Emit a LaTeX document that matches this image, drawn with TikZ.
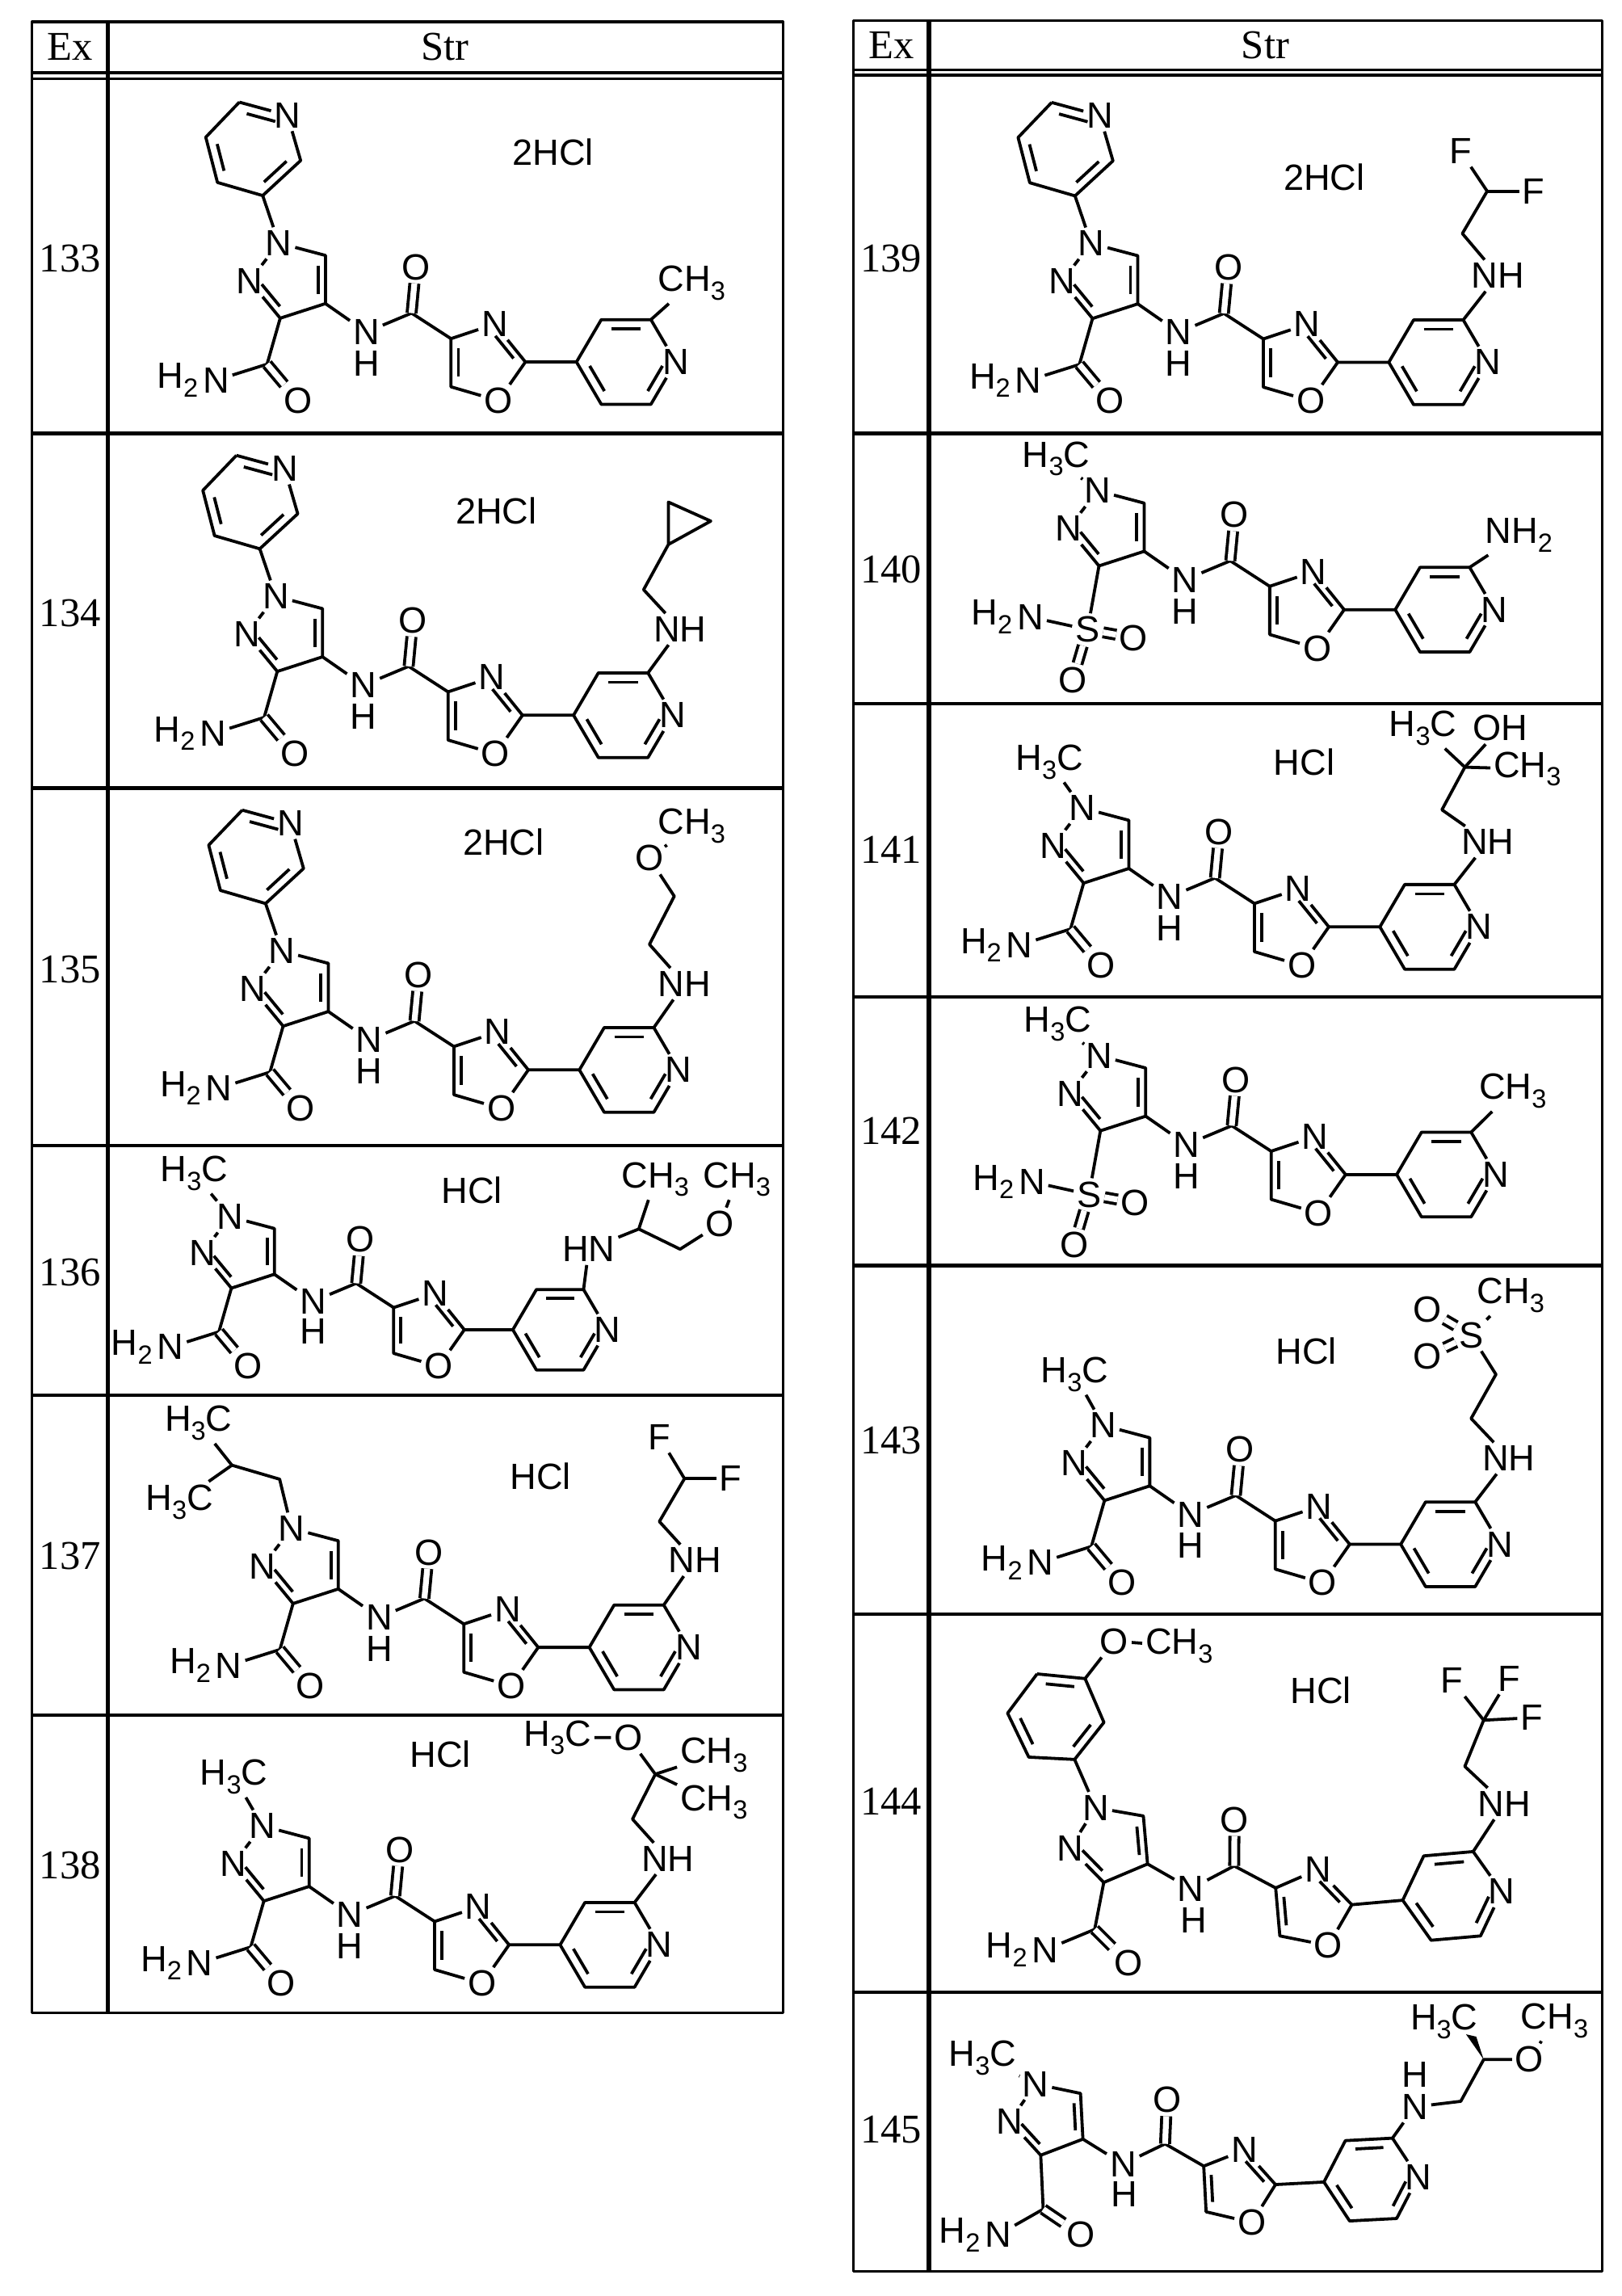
\documentclass[tikz,border=0pt]{standalone}
\usepackage{fontspec}
\setmainfont{Liberation Sans}
\newfontfamily\serifft{Liberation Serif}
\usetikzlibrary{calc}
\newcommand\sub[1]{\raisebox{-0.45ex}{\fontsize{9}{9}\selectfont#1}}
\newcommand\chemfont{\fontsize{12.5}{13}\selectfont}
\tikzset{
  atom/.style={inner sep=0.6pt, font=\chemfont},
  hsub/.style={inner sep=0pt, font=\chemfont, anchor=east},
  salt/.style={inner sep=0pt, font=\chemfont},
  exnum/.style={inner sep=0pt, font=\serifft\fontsize{14}{14}\selectfont},
  dbond/.style={double, double distance=2pt},
  tbl/.style={line width=0.9pt},
}
\newcommand\inb[3]{\path ($(#1)!0.22!(#3)$) coordinate (ia) ($(#2)!0.22!(#3)$) coordinate (ib);
  \draw ($(ia)!0.12!(ib)$) -- ($(ib)!0.12!(ia)$);}
% core: #1 prefix, #2 x, #3 y, #4 scale, #5 rotate
\newcommand\core[5]{%
\begin{scope}[shift={(#2,#3)},scale=#4,rotate=#5]
\coordinate (#1c4) at (0,0);
\coordinate (#1c5) at (0,-33);
\node[atom] (#1n1) at (-32,-41.5) {N};
\node[atom] (#1n2) at (-52,-15.5) {N};
\coordinate (#1c3) at (-31,10);
\coordinate (#1pz) at (-23,-16);
\node[atom] (#1nh) at (28,19.5) {N};
\node[atom,inner sep=0pt] (#1nhh) at (28,41) {H};
\coordinate (#1cc) at (59,6.5);
\node[atom] (#1co) at (62,-25) {O};
\coordinate (#1x4) at (86,24);
\node[atom] (#1x3) at (116,14) {N};
\coordinate (#1x2) at (137,40);
\node[atom] (#1x1) at (118.5,66.5) {O};
\coordinate (#1x5) at (86,57);
\coordinate (#1xc) at (109,40);
\coordinate (#1p4) at (172,40);
\coordinate (#1p3) at (189,11);
\coordinate (#1p2) at (223,11);
\node[atom] (#1pn) at (240,40) {N};
\coordinate (#1p6) at (223,69);
\coordinate (#1p5) at (189,69);
\coordinate (#1pc) at (206,40);
\end{scope}
\draw (#1n1) -- (#1c5) -- (#1c4) -- (#1c3) -- (#1n2) -- (#1n1);
\inb{#1c5}{#1c4}{#1pz}
\inb{#1c3}{#1n2}{#1pz}
\draw (#1c4) -- (#1nh) -- (#1cc) -- (#1x4);
\draw[dbond] (#1cc) -- (#1co);
\draw (#1x4) -- (#1x3) -- (#1x2) -- (#1x1) -- (#1x5) -- (#1x4);
\inb{#1x3}{#1x2}{#1xc}
\inb{#1x5}{#1x4}{#1xc}
\draw (#1x2) -- (#1p4) -- (#1p3) -- (#1p2) -- (#1pn) -- (#1p6) -- (#1p5) -- (#1p4);
\inb{#1p3}{#1p2}{#1pc}
\inb{#1pn}{#1p6}{#1pc}
\inb{#1p4}{#1p5}{#1pc}
}
\newcommand\amide[5]{%
\begin{scope}[shift={(#2,#3)},scale=#4,rotate=#5]
\coordinate (#1cam) at (-40,41.5);
\node[atom] (#1amn) at (-75,52.5) {N};
\node[hsub] at (#1amn.west) {H\sub2};
\node[atom] (#1amo) at (-19,66.5) {O};
\end{scope}
\draw (#1c3) -- (#1cam) -- (#1amn);
\draw[dbond] (#1cam) -- (#1amo);}
\newcommand\pyridyl[3]{%
\begin{scope}[shift={(#2,#3)}]
\coordinate (#1ya) at (-59,-138);
\node[atom] (#1yn) at (-26,-129) {N};
\coordinate (#1yb) at (-17,-98);
\coordinate (#1yc) at (-43,-74);
\coordinate (#1yd) at (-74,-83);
\coordinate (#1ye) at (-82,-114);
\coordinate (#1ym) at (-50,-106);
\end{scope}
\draw (#1ya) -- (#1yn) -- (#1yb) -- (#1yc) -- (#1yd) -- (#1ye) -- (#1ya);
\inb{#1ya}{#1yn}{#1ym}
\inb{#1yb}{#1yc}{#1ym}
\inb{#1yd}{#1ye}{#1ym}
\draw (#1yc) -- (#1n1);}
\newcommand\methyl[3]{%
\node[atom] (#1me) at (#2,#3) {H\sub3C};
\draw (#1me) -- (#1n1);}
\newcommand\sulf[3]{%
\begin{scope}[shift={(#2,#3)}]
\node[atom] (#1s) at (0,0) {S};
\node[atom] (#1sn) at (-39.2,-8.6) {N};
\node[hsub] at (#1sn.west) {H\sub2};
\node[atom] (#1so1) at (31.5,5.7) {O};
\node[atom] (#1so2) at (-10.2,34.5) {O};
\end{scope}
\draw (#1c3) -- (#1s) -- (#1sn);
\draw[dbond] (#1s) -- (#1so1);
\draw[dbond] (#1s) -- (#1so2);}
\begin{document}
\begin{tikzpicture}[x=0.5pt,y=-0.5pt,line width=1.05pt,line join=round]
\fill[white] (0,0) rectangle (1111,1573);
\useasboundingbox (0,0) rectangle (1111,1573);
% ---------- tables ----------
\draw[tbl] (22,15) rectangle (536.4,1379);
\draw[line width=1.4pt] (73.7,15) -- (73.7,1379);
\draw[tbl] (22,49.8) -- (536.4,49.8) (22,53.9) -- (536.4,53.9);
\foreach \yy in {297,540,785,956,1175} \draw[line width=1.2pt] (22,\yy) -- (536.4,\yy);
\node[exnum] at (48,32) {Ex};
\node[exnum] at (305,32) {Str};
\draw[tbl] (584.7,14) rectangle (1098,1556);
\draw[line width=1.4pt] (636.5,14) -- (636.5,1556);
\draw[tbl] (584.7,48) -- (1098,48) (584.7,51.5) -- (1098,51.5);
\foreach \yy in {297,482,683,867,1106,1365} \draw[line width=1.2pt] (584.7,\yy) -- (1098,\yy);
\node[exnum] at (610.6,31) {Ex};
\node[exnum] at (867,31) {Str};
\node[exnum] at (48,177) {133};
\node[exnum] at (48,420) {134};
\node[exnum] at (48,664) {135};
\node[exnum] at (48,872) {136};
\node[exnum] at (48,1066) {137};
\node[exnum] at (48,1278) {138};
\node[exnum] at (610.6,177) {139};
\node[exnum] at (610.6,390) {140};
\node[exnum] at (610.6,582) {141};
\node[exnum] at (610.6,775) {142};
\node[exnum] at (610.6,987) {143};
\node[exnum] at (610.6,1234) {144};
\node[exnum] at (610.6,1459) {145};
% ---------- 133 ----------
\core{a}{223}{208}{1}{0}\amide{a}{223}{208}{1}{0}
\pyridyl{a}{223}{208}
\node[atom] (a-me) at (474,194) {CH\sub3};
\draw (ap2) -- (a-me);
\node[salt] at (379,104) {2HCl};
% ---------- 134 ----------
\core{b}{221}{450}{1}{0}\amide{b}{221}{450}{1}{0}
\pyridyl{b}{221}{450}
\node[atom] (b-nh) at (466,431) {NH};
\coordinate (b-c1) at (441,404);
\coordinate (b-c2) at (458,373);
\coordinate (b-c3) at (458,344);
\coordinate (b-c4) at (487,357);
\draw (bp2) -- (b-nh) -- (b-c1) -- (b-c2) -- (b-c3) -- (b-c4) -- (b-c2);
\node[salt] at (340,350) {2HCl};
% ---------- 135 ----------
\core{c}{225}{693}{1}{0}\amide{c}{225}{693}{1}{0}
\pyridyl{c}{225}{693}
\node[atom] (c-nh) at (469,674) {NH};
\coordinate (c-c1) at (445,647);
\coordinate (c-c2) at (462,614);
\node[atom] (c-o) at (445,588) {O};
\node[atom] (c-me) at (474,566) {CH\sub3};
\draw (cp2) -- (c-nh) -- (c-c1) -- (c-c2) -- (c-o) -- (c-me);
\node[salt] at (345,577) {2HCl};
% ---------- 136 ----------
\core{d}{188}{873}{0.95}{0}\amide{d}{188}{873}{0.95}{0}
\methyl{d}{133}{803.8}
\node[atom] (d-hn) at (403.4,855.8) {HN};
\coordinate (d-ch) at (437.7,842);
\node[atom] (d-m1) at (449,808) {CH\sub3};
\coordinate (d-c2) at (466,855.8);
\node[atom] (d-o) at (493.4,838.4) {O};
\node[atom] (d-m2) at (505,808) {CH\sub3};
\draw (dp2) -- (d-hn) -- (d-ch) -- (d-c2) -- (d-o) -- (d-m2);
\draw (d-ch) -- (d-m1);
\node[salt] at (323.4,815.3) {HCl};
% ---------- 137 ----------
\core{e}{231.8}{1088.6}{1}{0}\amide{e}{231.8}{1088.6}{1}{0}
\coordinate (e-i1) at (191.6,1013.4);
\coordinate (e-i2) at (158.9,1003.8);
\node[atom] (e-t) at (136,975) {H\sub3C};
\node[atom] (e-u) at (123,1029) {H\sub3C};
\draw (en1) -- (e-i1) -- (e-i2) -- (e-t);
\draw (e-i2) -- (e-u);
\node[atom] (e-nh) at (476,1069) {NH};
\coordinate (e-c1) at (451.8,1042.4);
\coordinate (e-c2) at (469,1013);
\node[atom] (e-f1) at (451.8,984.5) {F};
\node[atom] (e-f2) at (500.6,1013) {F};
\draw (ep2) -- (e-nh) -- (e-c1) -- (e-c2) -- (e-f1);
\draw (e-c2) -- (e-f2);
\node[salt] at (370.4,1011.5) {HCl};
% ---------- 138 ----------
\core{f}{211.8}{1292.4}{1}{0}\amide{f}{211.8}{1292.4}{1}{0}
\methyl{f}{160.3}{1217.4}
\node[atom] (f-nh) at (457.7,1273.3) {NH};
\coordinate (f-c1) at (433.4,1246.3);
\coordinate (f-cq) at (449,1215.5);
\node[atom] (f-o) at (430.6,1190.4) {O};
\node[atom] (f-h3c) at (382,1190.4) {H\sub3C};
\node[atom] (f-m1) at (489.2,1202.4) {CH\sub3};
\node[atom] (f-m2) at (489.2,1234.8) {CH\sub3};
\draw (fp2) -- (f-nh) -- (f-c1) -- (f-cq) -- (f-o) -- (f-h3c);
\draw (f-cq) -- (f-m1);
\draw (f-cq) -- (f-m2);
\node[salt] at (301.8,1202) {HCl};
% ---------- 139 ----------
\core{g}{779.6}{208.2}{1}{0}\amide{g}{779.6}{208.2}{1}{0}
\pyridyl{g}{779.6}{208.2}
\node[atom] (g-nh) at (1026.4,188.8) {NH};
\coordinate (g-c1) at (1002,160);
\coordinate (g-c2) at (1019,131);
\node[atom] (g-f1) at (1000.6,103.5) {F};
\node[atom] (g-f2) at (1050.7,131) {F};
\draw (gp2) -- (g-nh) -- (g-c1) -- (g-c2) -- (g-f1);
\draw (g-c2) -- (g-f2);
\node[salt] at (907.3,121.5) {2HCl};
% ---------- 140 ----------
\core{h}{784}{377.7}{1}{0}
\methyl{h}{723.7}{314.3}
\sulf{h}{745.2}{431.3}
\node[atom] (h-nh2) at (1040.7,366.5) {NH\sub2};
\draw (hp2) -- (h-nh2);
% ---------- 141 ----------
\core{i}{773.5}{595}{1}{0}\amide{i}{773.5}{595}{1}{0}
\methyl{i}{719}{522}
\node[atom] (i-nh) at (1019.4,576.8) {NH};
\coordinate (i-c1) at (988,554.8);
\coordinate (i-cq) at (1003.7,525.6);
\node[atom] (i-h3c) at (975,498.8) {H\sub3C};
\node[atom] (i-oh) at (1028,498.8) {OH};
\node[atom] (i-me) at (1046.5,526.8) {CH\sub3};
\draw (ip2) -- (i-nh) -- (i-c1) -- (i-cq) -- (i-h3c);
\draw (i-cq) -- (i-oh);
\draw (i-cq) -- (i-me);
\node[salt] at (893.6,522) {HCl};
% ---------- 142 ----------
\core{j}{785}{764.7}{1}{0}
\methyl{j}{724.8}{701.3}
\sulf{j}{746.2}{818.3}
\node[atom] (j-me) at (1036.6,747.5) {CH\sub3};
\draw (jp2) -- (j-me);
% ---------- 143 ----------
\core{k}{787.8}{1018}{1}{0}\amide{k}{787.8}{1018}{1}{0}
\methyl{k}{736.3}{941.6}
\node[atom] (k-nh) at (1033.8,999) {NH};
\coordinate (k-c1) at (1008,971.8);
\coordinate (k-c2) at (1025,941.6);
\node[atom] (k-s) at (1008,914.6) {S};
\node[atom] (k-me) at (1035.2,887.6) {CH\sub3};
\node[atom] (k-o1) at (977.9,897) {O};
\node[atom] (k-o2) at (977.9,929) {O};
\draw (kp2) -- (k-nh) -- (k-c1) -- (k-c2) -- (k-s) -- (k-me);
\draw[dbond] (k-s) -- (k-o1);
\draw[dbond] (k-s) -- (k-o2);
\node[salt] at (895,925.8) {HCl};
% ---------- 144 ----------
\core{l}{786.3}{1277}{1}{5}\amide{l}{786.3}{1277}{1}{5}
\coordinate (l-v1) at (710.6,1146.8);
\coordinate (l-v2) at (743.5,1150);
\coordinate (l-v3) at (756.4,1180);
\coordinate (l-v4) at (736.3,1205.4);
\coordinate (l-v5) at (704.9,1203.8);
\coordinate (l-v6) at (690.4,1173.7);
\coordinate (l-vc) at (723.7,1176.4);
\draw (l-v1) -- (l-v2) -- (l-v3) -- (l-v4) -- (l-v5) -- (l-v6) -- (l-v1);
\inb{l-v1}{l-v2}{l-vc}
\inb{l-v3}{l-v4}{l-vc}
\inb{l-v5}{l-v6}{l-vc}
\draw (l-v4) -- (ln1);
\node[atom] (l-o) at (763.5,1124.4) {O};
\node[atom] (l-me) at (807.9,1127.6) {CH\sub3};
\draw (l-v2) -- (l-o) -- (l-me);
\node[salt] at (905,1158) {HCl};
\node[atom] (l-nh) at (1030.9,1235.7) {NH};
\coordinate (l-c1) at (1003.7,1210.2);
\coordinate (l-c2) at (1016.6,1178.5);
\node[atom] (l-f1) at (995,1151.4) {F};
\node[atom] (l-f2) at (1033.8,1150) {F};
\node[atom] (l-f3) at (1049.5,1176.8) {F};
\draw (lp2) -- (l-nh) -- (l-c1) -- (l-c2) -- (l-f1);
\draw (l-c2) -- (l-f2);
\draw (l-c2) -- (l-f3);
% ---------- 145 ----------
\core{m}{742}{1465.5}{0.95}{3}
\coordinate (mcam) at (714.8,1513.5);
\node[atom] (mamn) at (684,1531) {N};
\node[hsub] at (mamn.west) {H\sub2};
\node[atom] (mamo) at (740.6,1531) {O};
\draw (mc3) -- (mcam) -- (mamn);
\draw[dbond] (mcam) -- (mamo);
\methyl{m}{673.3}{1410}
\node[atom] (m-n) at (969.4,1443.4) {N};
\node[atom,inner sep=0pt] (m-h) at (969.4,1421.5) {H};
\coordinate (m-c1) at (1000.9,1439.6);
\coordinate (m-ch) at (1016.6,1411);
\node[atom] (m-h3c) at (989.5,1385.2) {H\sub3C};
\node[atom] (m-o) at (1048,1411) {O};
\node[atom] (m-me) at (1065.2,1384.3) {CH\sub3};
\draw (mp2) -- (m-n) -- (m-c1) -- (m-ch) -- (m-o) -- (m-me);
\coordinate (m-w) at (1008,1394.5);
\fill (m-ch) -- ($(m-w)+(-3.5,-0.8)$) -- ($(m-w)+(3.5,0.8)$) -- cycle;
\end{tikzpicture}
\end{document}
